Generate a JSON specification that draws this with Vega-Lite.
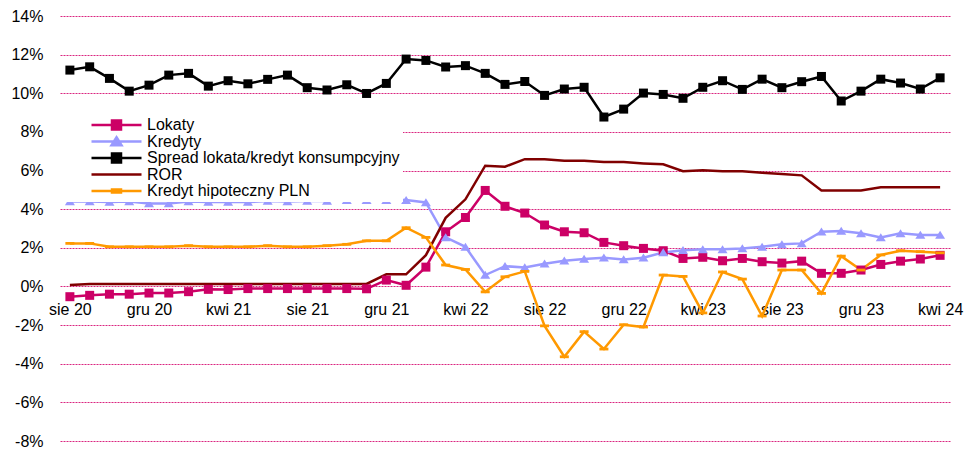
{
  "$schema": "https://vega.github.io/schema/vega-lite/v6.json",
  "width": 890,
  "height": 425,
  "autosize": {"type": "none"},
  "padding": {"left": 60, "top": 16, "right": 18, "bottom": 12},
  "background": "white",
  "config": {"font": "Liberation Sans", "view": {"stroke": null}},
  "data": {
    "values": [
      {"m": "sie 20", "Lokaty": -0.53, "Kredyty": 4.40, "Spread lokata/kredyt konsumpcyjny": 11.20, "ROR": 0.08, "Kredyt hipoteczny PLN": 2.23},
      {"m": "wrz 20", "Lokaty": -0.46, "Kredyty": 4.40, "Spread lokata/kredyt konsumpcyjny": 11.37, "ROR": 0.13, "Kredyt hipoteczny PLN": 2.23},
      {"m": "paź 20", "Lokaty": -0.40, "Kredyty": 4.37, "Spread lokata/kredyt konsumpcyjny": 10.77, "ROR": 0.13, "Kredyt hipoteczny PLN": 2.05},
      {"m": "lis 20", "Lokaty": -0.40, "Kredyty": 4.40, "Spread lokata/kredyt konsumpcyjny": 10.11, "ROR": 0.13, "Kredyt hipoteczny PLN": 2.05},
      {"m": "gru 20", "Lokaty": -0.34, "Kredyty": 4.30, "Spread lokata/kredyt konsumpcyjny": 10.42, "ROR": 0.13, "Kredyt hipoteczny PLN": 2.05},
      {"m": "sty 21", "Lokaty": -0.34, "Kredyty": 4.30, "Spread lokata/kredyt konsumpcyjny": 10.94, "ROR": 0.13, "Kredyt hipoteczny PLN": 2.05},
      {"m": "lut 21", "Lokaty": -0.27, "Kredyty": 4.40, "Spread lokata/kredyt konsumpcyjny": 11.03, "ROR": 0.13, "Kredyt hipoteczny PLN": 2.11},
      {"m": "mar 21", "Lokaty": -0.15, "Kredyty": 4.37, "Spread lokata/kredyt konsumpcyjny": 10.37, "ROR": 0.13, "Kredyt hipoteczny PLN": 2.05},
      {"m": "kwi 21", "Lokaty": -0.16, "Kredyty": 4.37, "Spread lokata/kredyt konsumpcyjny": 10.65, "ROR": 0.13, "Kredyt hipoteczny PLN": 2.05},
      {"m": "maj 21", "Lokaty": -0.11, "Kredyty": 4.37, "Spread lokata/kredyt konsumpcyjny": 10.49, "ROR": 0.13, "Kredyt hipoteczny PLN": 2.05},
      {"m": "cze 21", "Lokaty": -0.11, "Kredyty": 4.42, "Spread lokata/kredyt konsumpcyjny": 10.72, "ROR": 0.13, "Kredyt hipoteczny PLN": 2.11},
      {"m": "lip 21", "Lokaty": -0.11, "Kredyty": 4.40, "Spread lokata/kredyt konsumpcyjny": 10.94, "ROR": 0.13, "Kredyt hipoteczny PLN": 2.05},
      {"m": "sie 21", "Lokaty": -0.11, "Kredyty": 4.42, "Spread lokata/kredyt konsumpcyjny": 10.29, "ROR": 0.13, "Kredyt hipoteczny PLN": 2.05},
      {"m": "wrz 21", "Lokaty": -0.11, "Kredyty": 4.42, "Spread lokata/kredyt konsumpcyjny": 10.17, "ROR": 0.13, "Kredyt hipoteczny PLN": 2.11},
      {"m": "paź 21", "Lokaty": -0.11, "Kredyty": 4.47, "Spread lokata/kredyt konsumpcyjny": 10.44, "ROR": 0.13, "Kredyt hipoteczny PLN": 2.18},
      {"m": "lis 21", "Lokaty": -0.12, "Kredyty": 4.47, "Spread lokata/kredyt konsumpcyjny": 9.99, "ROR": 0.13, "Kredyt hipoteczny PLN": 2.36},
      {"m": "gru 21", "Lokaty": 0.33, "Kredyty": 4.47, "Spread lokata/kredyt konsumpcyjny": 10.51, "ROR": 0.63, "Kredyt hipoteczny PLN": 2.36},
      {"m": "sty 22", "Lokaty": 0.06, "Kredyty": 4.47, "Spread lokata/kredyt konsumpcyjny": 11.77, "ROR": 0.63, "Kredyt hipoteczny PLN": 3.04},
      {"m": "lut 22", "Lokaty": 1.00, "Kredyty": 4.35, "Spread lokata/kredyt konsumpcyjny": 11.70, "ROR": 1.62, "Kredyt hipoteczny PLN": 2.54},
      {"m": "mar 22", "Lokaty": 2.83, "Kredyty": 2.54, "Spread lokata/kredyt konsumpcyjny": 11.36, "ROR": 3.55, "Kredyt hipoteczny PLN": 1.11},
      {"m": "kwi 22", "Lokaty": 3.57, "Kredyty": 2.05, "Spread lokata/kredyt konsumpcyjny": 11.43, "ROR": 4.51, "Kredyt hipoteczny PLN": 0.88},
      {"m": "maj 22", "Lokaty": 4.97, "Kredyty": 0.59, "Spread lokata/kredyt konsumpcyjny": 11.03, "ROR": 6.25, "Kredyt hipoteczny PLN": -0.28},
      {"m": "cze 22", "Lokaty": 4.15, "Kredyty": 1.05, "Spread lokata/kredyt konsumpcyjny": 10.46, "ROR": 6.20, "Kredyt hipoteczny PLN": 0.50},
      {"m": "lip 22", "Lokaty": 3.80, "Kredyty": 0.98, "Spread lokata/kredyt konsumpcyjny": 10.61, "ROR": 6.59, "Kredyt hipoteczny PLN": 0.78},
      {"m": "sie 22", "Lokaty": 3.18, "Kredyty": 1.18, "Spread lokata/kredyt konsumpcyjny": 9.89, "ROR": 6.59, "Kredyt hipoteczny PLN": -2.04},
      {"m": "wrz 22", "Lokaty": 2.83, "Kredyty": 1.33, "Spread lokata/kredyt konsumpcyjny": 10.22, "ROR": 6.51, "Kredyt hipoteczny PLN": -3.64},
      {"m": "paź 22", "Lokaty": 2.78, "Kredyty": 1.42, "Spread lokata/kredyt konsumpcyjny": 10.31, "ROR": 6.51, "Kredyt hipoteczny PLN": -2.34},
      {"m": "lis 22", "Lokaty": 2.28, "Kredyty": 1.49, "Spread lokata/kredyt konsumpcyjny": 8.77, "ROR": 6.44, "Kredyt hipoteczny PLN": -3.24},
      {"m": "gru 22", "Lokaty": 2.11, "Kredyty": 1.40, "Spread lokata/kredyt konsumpcyjny": 9.18, "ROR": 6.44, "Kredyt hipoteczny PLN": -1.98},
      {"m": "sty 23", "Lokaty": 1.97, "Kredyty": 1.49, "Spread lokata/kredyt konsumpcyjny": 10.01, "ROR": 6.37, "Kredyt hipoteczny PLN": -2.10},
      {"m": "lut 23", "Lokaty": 1.85, "Kredyty": 1.76, "Spread lokata/kredyt konsumpcyjny": 9.94, "ROR": 6.32, "Kredyt hipoteczny PLN": 0.59},
      {"m": "mar 23", "Lokaty": 1.45, "Kredyty": 1.88, "Spread lokata/kredyt konsumpcyjny": 9.74, "ROR": 5.97, "Kredyt hipoteczny PLN": 0.52},
      {"m": "kwi 23", "Lokaty": 1.51, "Kredyty": 1.92, "Spread lokata/kredyt konsumpcyjny": 10.31, "ROR": 6.02, "Kredyt hipoteczny PLN": -1.37},
      {"m": "maj 23", "Lokaty": 1.33, "Kredyty": 1.92, "Spread lokata/kredyt konsumpcyjny": 10.65, "ROR": 5.96, "Kredyt hipoteczny PLN": 0.75},
      {"m": "cze 23", "Lokaty": 1.45, "Kredyty": 1.97, "Spread lokata/kredyt konsumpcyjny": 10.20, "ROR": 5.96, "Kredyt hipoteczny PLN": 0.38},
      {"m": "lip 23", "Lokaty": 1.28, "Kredyty": 2.05, "Spread lokata/kredyt konsumpcyjny": 10.73, "ROR": 5.89, "Kredyt hipoteczny PLN": -1.53},
      {"m": "sie 23", "Lokaty": 1.21, "Kredyty": 2.18, "Spread lokata/kredyt konsumpcyjny": 10.29, "ROR": 5.82, "Kredyt hipoteczny PLN": 0.85},
      {"m": "wrz 23", "Lokaty": 1.31, "Kredyty": 2.23, "Spread lokata/kredyt konsumpcyjny": 10.60, "ROR": 5.75, "Kredyt hipoteczny PLN": 0.85},
      {"m": "paź 23", "Lokaty": 0.68, "Kredyty": 2.83, "Spread lokata/kredyt konsumpcyjny": 10.87, "ROR": 4.97, "Kredyt hipoteczny PLN": -0.36},
      {"m": "lis 23", "Lokaty": 0.68, "Kredyty": 2.87, "Spread lokata/kredyt konsumpcyjny": 9.60, "ROR": 4.97, "Kredyt hipoteczny PLN": 1.57},
      {"m": "gru 23", "Lokaty": 0.85, "Kredyty": 2.75, "Spread lokata/kredyt konsumpcyjny": 10.11, "ROR": 4.97, "Kredyt hipoteczny PLN": 0.85},
      {"m": "sty 24", "Lokaty": 1.14, "Kredyty": 2.54, "Spread lokata/kredyt konsumpcyjny": 10.73, "ROR": 5.13, "Kredyt hipoteczny PLN": 1.63},
      {"m": "lut 24", "Lokaty": 1.31, "Kredyty": 2.75, "Spread lokata/kredyt konsumpcyjny": 10.53, "ROR": 5.13, "Kredyt hipoteczny PLN": 1.85},
      {"m": "mar 24", "Lokaty": 1.42, "Kredyty": 2.66, "Spread lokata/kredyt konsumpcyjny": 10.22, "ROR": 5.13, "Kredyt hipoteczny PLN": 1.80},
      {"m": "kwi 24", "Lokaty": 1.61, "Kredyty": 2.66, "Spread lokata/kredyt konsumpcyjny": 10.80, "ROR": 5.13, "Kredyt hipoteczny PLN": 1.74}
    ]
  },
  "transform": [
    {"fold": ["Lokaty", "Kredyty", "Spread lokata/kredyt konsumpcyjny", "ROR", "Kredyt hipoteczny PLN"], "as": ["series", "value"]}
  ],
  "encoding": {
    "x": {
      "field": "m",
      "type": "ordinal",
      "sort": null,
      "axis": {
        "title": null,
        "values": ["sie 20", "gru 20", "kwi 21", "sie 21", "gru 21", "kwi 22", "sie 22", "gru 22", "kwi 23", "sie 23", "gru 23", "kwi 24"],
        "labelAngle": 0,
        "domain": false,
        "ticks": false,
        "grid": false,
        "offset": -154.6,
        "labelPadding": 15,
        "labelFontSize": 16,
        "labelColor": "black",
        "labelOverlap": false
      }
    },
    "y": {
      "field": "value",
      "type": "quantitative",
      "scale": {"domain": [-8, 14], "nice": false, "zero": false},
      "axis": {
        "title": null,
        "values": [-8, -6, -4, -2, 0, 2, 4, 6, 8, 10, 12, 14],
        "labelExpr": "datum.value + '%'",
        "grid": true,
        "gridColor": "#d4006a",
        "gridDash": [2, 1],
        "gridWidth": 1,
        "gridOpacity": 0.85,
        "domain": false,
        "ticks": false,
        "labelFontSize": 16,
        "labelPadding": 17,
        "labelColor": "black"
      }
    },
    "color": {
      "field": "series",
      "type": "nominal",
      "scale": {
        "domain": ["Lokaty", "Kredyty", "Spread lokata/kredyt konsumpcyjny", "ROR", "Kredyt hipoteczny PLN"],
        "range": ["#cc0066", "#9999ff", "#000000", "#800000", "#ff9900"]
      },
      "legend": {
        "title": null,
        "orient": "none",
        "legendX": 0,
        "legendY": 99,
        "fillColor": "white",
        "padding": 3,
        "labelFontSize": 16,
        "labelColor": "black",
        "labelLimit": 400,
        "symbolSize": 2500,
        "symbolStrokeWidth": 2.5,
        "symbolOffset": 27,
        "labelOffset": 4,
        "clipHeight": 14,
        "rowPadding": 0.5,
        "encode": {
          "symbols": {
            "update": {
              "shape": {"signal": "datum.value === 'Kredyty' ? 'M-1,0H1M0,-0.17L0.2,0.15L-0.2,0.15Z' : datum.value === 'ROR' ? 'M-1,0H1' : datum.value === 'Kredyt hipoteczny PLN' ? 'M-1,0H1M-0.18,-0.06H0.18V0.06H-0.18Z' : 'M-1,0H1M-0.18,-0.18H0.18V0.18H-0.18Z'"},
              "fill": {"scale": "color", "field": "value"},
              "stroke": {"scale": "color", "field": "value"},
              "strokeWidth": {"value": 2.5},
              "opacity": {"value": 1}
            }
          }
        }
      }
    }
  },
  "layer": [
    {"mark": {"type": "line", "strokeWidth": 2.5}},
    {
      "transform": [{"filter": "datum.series !== 'ROR'"}],
      "mark": {"type": "point", "filled": true, "opacity": 1, "size": 400},
      "encoding": {
        "shape": {
          "field": "series",
          "type": "nominal",
          "scale": {
            "domain": ["Lokaty", "Kredyty", "Spread lokata/kredyt konsumpcyjny", "Kredyt hipoteczny PLN"],
            "range": ["M-0.45,-0.45H0.45V0.45H-0.45Z", "M0,-0.42L0.5,0.38L-0.5,0.38Z", "M-0.45,-0.45H0.45V0.45H-0.45Z", "M-0.45,-0.14H0.45V0.14H-0.45Z"]
          },
          "legend": null
        }
      }
    }
  ]
}
